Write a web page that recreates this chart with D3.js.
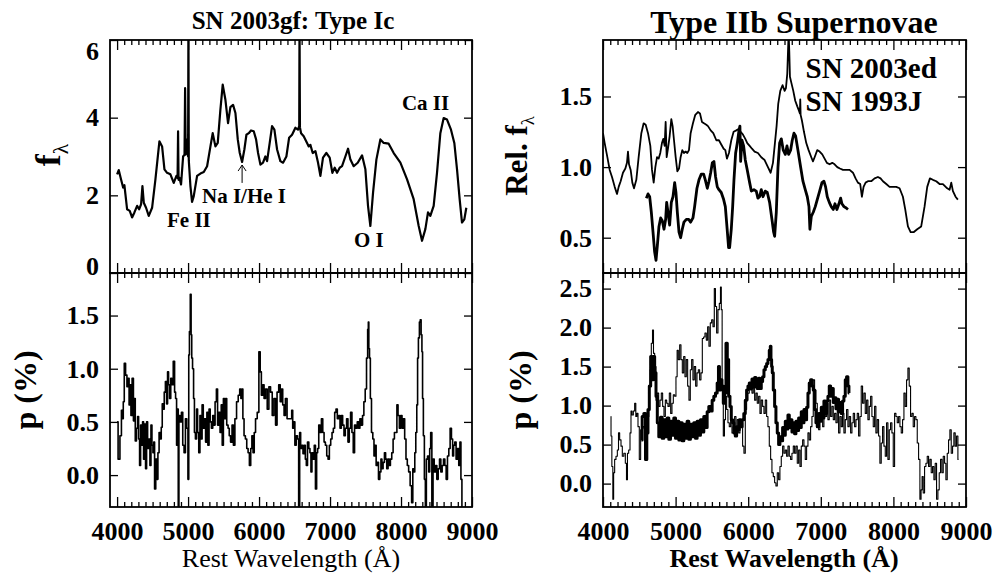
<!DOCTYPE html>
<meta charset="utf-8">
<style>
body{
	margin:0;
	background:#fff;
	font-family:"Liberation Serif","Times New Roman",serif;
}
svg text{fill:#000;}
</style>
<script src="https://cdn.jsdelivr.net/npm/d3@7"></script>
<svg id="chart" width="995" height="576"></svg>

<script>

// SN 2003gf (Type Ic): total flux, [wavelength A, f_lambda]
var icFlux = [[4000,2.54],[4023,2.65],[4056,2.41],[4085,2.20],[4103,2.26],[4117,2.03],[4141,1.64],[4178,1.60],[4211,1.43],[4244,1.56],
[4282,1.73],[4310,1.64],[4338,1.77],[4357,2.24],[4376,1.81],[4408,1.68],[4446,1.47],[4493,1.68],[4540,2.41],[4596,3.39],
[4634,3.26],[4667,2.67],[4704,2.58],[4751,2.54],[4798,2.32],[4836,2.50],[4852,2.45],[4859,3.65],[4866,2.40],[4878,2.45],
[4901,2.28],[4930,3.00],[4950,3.05],[4958,4.76],[4966,3.05],[4977,3.09],[4990,3.44],[5000,3.00],[5005,6.5],[5010,2.90],
[5033,2.24],[5056,1.83],[5080,1.98],[5127,2.50],[5174,2.56],[5221,2.60],[5268,2.75],[5315,3.26],[5347,3.60],[5385,3.26],
[5418,3.35],[5455,4.20],[5488,4.85],[5526,4.46],[5563,3.86],[5596,4.27],[5634,4.33],[5667,4.12],[5700,3.44],[5728,3.09],
[5761,2.86],[5793,3.18],[5822,3.56],[5855,3.60],[5887,3.67],[5925,3.65],[5958,3.44],[5986,3.09],[6019,2.79],[6056,2.84],
[6089,3.00],[6113,2.88],[6150,3.35],[6183,3.78],[6216,3.69],[6254,3.18],[6300,2.88],[6338,2.84],[6385,3.00],[6423,3.48],
[6465,3.56],[6512,3.74],[6549,3.69],[6566,3.78],[6570,6.5],[6576,3.75],[6592,3.60],[6629,3.52],[6676,3.35],[6700,3.26],
[6723,3.30],[6756,3.09],[6794,3.14],[6831,2.84],[6864,2.50],[6901,2.97],[6948,3.09],[6995,2.97],[7033,2.58],[7066,2.71],
[7099,2.58],[7136,2.71],[7169,2.75],[7216,3.00],[7254,3.20],[7287,2.92],[7333,2.75],[7390,2.84],[7451,3.03],[7498,2.67],
[7535,1.73],[7568,1.21],[7606,2.07],[7653,2.92],[7709,3.44],[7756,3.35],[7826,3.33],[7897,3.09],[7991,2.84],[8085,2.41],
[8178,1.90],[8249,1.21],[8296,0.83],[8343,1.13],[8380,1.56],[8413,1.47],[8460,1.73],[8507,2.58],[8554,3.60],[8601,3.99],
[8648,3.95],[8704,3.69],[8751,3.35],[8789,2.67],[8826,1.90],[8859,1.30],[8892,1.38],[8920,1.68]];

// SN 2003gf polarization, [wavelength A, p %]
var icPol = [[4000,0.50],[4028,0.15],[4052,0.37],[4070,0.61],[4080,0.53],[4094,0.69],[4108,1.05],[4131,0.94],[4146,0.83],[4164,0.91],
[4174,0.66],[4188,0.85],[4202,0.56],[4221,0.91],[4239,0.51],[4249,0.72],[4263,0.32],[4282,0.44],[4296,0.55],[4310,0.34],
[4324,0.09],[4338,0.47],[4352,0.28],[4366,0.50],[4380,0.15],[4394,0.48],[4408,0.06],[4423,0.50],[4437,0.25],[4455,0.34],
[4470,0.09],[4484,0.47],[4498,0.28],[4512,0.21],[4521,0.31],[4535,-0.13],[4554,0.15],[4568,-0.04],[4582,0.21],[4601,0.40],
[4615,0.34],[4629,0.45],[4643,0.67],[4657,0.62],[4671,0.78],[4690,0.88],[4704,0.67],[4718,0.97],[4732,0.85],[4747,0.72],
[4765,0.91],[4779,0.85],[4803,1.07],[4817,0.78],[4831,0.72],[4845,0.28],[4859,0.62],[4864,-0.35],[4878,0.56],[4897,0.50],
[4916,0.59],[4934,0.28],[4953,0.21],[4972,0.53],[4991,0.44],[5005,-0.04],[5014,1.13],[5024,1.35],[5038,1.70],[5047,1.32],
[5056,1.10],[5070,1.00],[5085,0.72],[5094,0.40],[5113,0.34],[5127,0.62],[5141,0.40],[5160,0.21],[5174,0.56],[5188,0.34],
[5207,0.66],[5221,0.44],[5235,0.53],[5258,0.31],[5272,0.59],[5286,0.28],[5305,0.62],[5319,0.50],[5338,0.44],[5357,0.56],
[5371,0.47],[5390,0.69],[5408,0.81],[5423,0.47],[5441,0.59],[5460,0.40],[5474,0.66],[5488,0.28],[5507,0.72],[5521,0.53],
[5535,0.72],[5554,0.47],[5573,0.44],[5587,0.37],[5610,0.31],[5629,0.47],[5648,0.28],[5671,0.53],[5695,0.69],[5718,0.75],
[5737,0.81],[5751,0.72],[5765,0.81],[5779,0.53],[5798,0.37],[5817,0.34],[5836,0.25],[5855,0.21],[5873,0.09],[5892,0.25],
[5906,0.37],[5925,0.21],[5939,0.40],[5962,0.53],[5986,0.59],[6009,1.16],[6023,0.97],[6042,0.75],[6061,0.85],[6080,0.72],
[6103,0.81],[6127,0.62],[6150,0.83],[6174,0.78],[6197,0.56],[6221,0.72],[6244,0.47],[6263,0.78],[6291,0.85],[6305,0.69],
[6324,0.81],[6343,0.66],[6362,0.56],[6380,0.72],[6409,0.53],[6453,0.53],[6467,0.61],[6481,0.44],[6495,0.50],[6514,0.28],
[6533,0.37],[6551,0.34],[6565,-0.35],[6579,0.40],[6593,0.25],[6612,0.28],[6626,0.20],[6645,0.28],[6659,0.15],[6673,0.09],
[6692,0.31],[6710,0.25],[6724,0.21],[6738,0.03],[6752,0.21],[6771,0.15],[6785,0.28],[6804,-0.13],[6818,0.21],[6832,0.25],
[6850,0.47],[6869,0.40],[6888,0.53],[6907,0.40],[6925,0.31],[6944,0.28],[6963,0.18],[6981,0.15],[7000,0.28],[7019,0.34],
[7037,0.40],[7056,0.44],[7075,0.59],[7093,0.62],[7112,0.53],[7131,0.56],[7150,0.44],[7168,0.56],[7187,0.47],[7206,0.37],
[7224,0.44],[7243,0.53],[7262,0.31],[7280,0.44],[7299,0.59],[7318,0.40],[7336,0.21],[7355,0.47],[7374,0.44],[7393,0.50],
[7411,0.44],[7430,0.53],[7449,0.47],[7467,0.56],[7486,0.69],[7505,0.81],[7523,1.10],[7537,1.37],[7542,1.44],[7551,1.19],
[7561,1.10],[7575,0.72],[7593,0.40],[7612,0.34],[7626,0.18],[7640,0.28],[7659,0.09],[7673,0.12],[7692,-0.04],[7710,0.03],
[7724,0.15],[7738,0.06],[7757,0.12],[7776,0.21],[7790,0.15],[7808,0.06],[7827,0.15],[7841,0.09],[7860,0.15],[7879,0.21],
[7898,0.34],[7916,0.40],[7935,0.40],[7949,0.66],[7967,0.56],[7986,0.44],[8005,0.56],[8023,0.44],[8042,0.53],[8061,0.34],
[8079,0.15],[8098,0.09],[8117,0.03],[8140,-0.10],[8159,-0.26],[8173,0.06],[8187,0.03],[8201,0.21],[8215,0.40],[8229,0.66],
[8238,1.10],[8252,1.29],[8266,1.44],[8276,1.46],[8290,1.32],[8299,1.16],[8308,0.72],[8322,0.37],[8336,-0.04],[8350,-0.35],
[8364,0.15],[8383,0.18],[8397,0.03],[8411,0.25],[8425,0.40],[8444,-0.35],[8458,0.15],[8477,0.03],[8495,0.09],[8514,-0.04],
[8533,0.06],[8552,0.15],[8570,0.03],[8589,0.09],[8608,0.15],[8627,0.09],[8645,-0.04],[8664,0.18],[8683,0.25],[8701,0.44],
[8720,0.34],[8734,0.18],[8748,0.28],[8767,0.31],[8785,0.15],[8804,0.25],[8823,0.09],[8837,0.31],[8851,-0.04],[8865,-0.35]];

// Type IIb: thin curve (full range) relative flux
var sn93jFlux = [[4000,1.24],[4023,1.17],[4060,1.07],[4092,0.98],[4124,0.93],[4161,0.86],[4193,0.81],[4216,0.86],[4243,0.90],[4275,0.96],
[4308,0.99],[4330,1.03],[4344,1.11],[4358,1.02],[4381,0.98],[4404,0.89],[4427,0.85],[4459,0.91],[4491,1.07],[4528,1.24],
[4560,1.31],[4588,1.30],[4620,1.24],[4652,1.15],[4675,0.98],[4698,0.89],[4721,1.00],[4744,1.07],[4767,1.06],[4789,1.10],
[4812,1.17],[4831,1.20],[4849,1.15],[4863,1.32],[4877,1.07],[4895,1.13],[4918,1.22],[4941,1.34],[4959,1.29],[4978,1.19],
[5001,1.07],[5024,0.97],[5047,0.99],[5069,1.07],[5092,1.12],[5115,1.10],[5138,1.11],[5161,1.10],[5184,1.12],[5207,1.24],
[5239,1.31],[5271,1.37],[5308,1.39],[5336,1.38],[5363,1.32],[5391,1.31],[5423,1.30],[5446,1.29],[5483,1.26],[5519,1.24],
[5561,1.19],[5597,1.19],[5629,1.16],[5662,1.13],[5685,1.12],[5707,1.06],[5735,1.10],[5767,1.19],[5799,1.25],[5836,1.26],
[5868,1.27],[5896,1.25],[5928,1.23],[5960,1.20],[5987,1.17],[6020,1.15],[6052,1.13],[6088,1.11],[6134,1.10],[6180,1.07],
[6226,1.05],[6272,1.00],[6309,0.96],[6341,1.03],[6368,1.17],[6391,1.29],[6414,1.45],[6442,1.54],[6474,1.58],[6502,1.54],
[6520,1.56],[6538,1.66],[6547,1.80],[6557,1.95],[6566,1.82],[6575,1.64],[6593,1.60],[6621,1.54],[6648,1.47],[6676,1.43],
[6699,1.40],[6712,1.38],[6717,1.48],[6722,1.37],[6740,1.33],[6768,1.25],[6800,1.17],[6832,1.12],[6869,1.07],[6892,1.04],
[6915,1.07],[6951,1.12],[6984,1.11],[7020,1.09],[7052,1.06],[7084,1.03],[7121,1.02],[7158,1.03],[7190,1.02],[7227,1.00],
[7263,0.99],[7305,0.98],[7351,0.98],[7397,0.98],[7443,0.96],[7479,0.92],[7511,0.89],[7543,0.88],[7566,0.79],[7589,0.86],
[7617,0.89],[7649,0.90],[7695,0.90],[7741,0.92],[7787,0.93],[7823,0.92],[7856,0.90],[7902,0.88],[7947,0.86],[7993,0.86],
[8039,0.86],[8085,0.85],[8131,0.79],[8163,0.70],[8200,0.58],[8237,0.54],[8282,0.54],[8328,0.56],[8383,0.58],[8429,0.72],
[8466,0.86],[8503,0.92],[8544,0.91],[8590,0.90],[8636,0.88],[8682,0.88],[8741,0.85],[8774,0.84],[8797,0.89],[8820,0.83],
[8856,0.79],[8888,0.77]];

// Type IIb: thick curve (short range) relative flux
var sn03edFlux = [[4597,0.78],[4620,0.81],[4643,0.79],[4666,0.68],[4689,0.54],[4711,0.40],[4730,0.34],[4748,0.44],[4771,0.58],[4794,0.64],
[4817,0.62],[4840,0.56],[4863,0.63],[4877,0.75],[4895,0.68],[4918,0.59],[4941,0.75],[4964,0.79],[4987,0.89],[5005,0.82],
[5024,0.68],[5047,0.54],[5069,0.50],[5092,0.56],[5115,0.61],[5148,0.63],[5180,0.63],[5207,0.61],[5239,0.64],[5262,0.72],
[5294,0.85],[5322,0.91],[5354,0.95],[5386,0.95],[5409,0.91],[5437,0.85],[5460,0.90],[5483,0.96],[5506,1.03],[5528,1.04],
[5551,0.93],[5574,0.86],[5597,0.84],[5629,0.82],[5662,0.77],[5685,0.72],[5707,0.58],[5730,0.43],[5744,0.43],[5767,0.56],
[5786,0.72],[5804,0.91],[5827,1.10],[5850,1.17],[5873,1.26],[5886,1.29],[5896,1.04],[5914,1.19],[5937,1.15],[5960,1.05],
[5987,0.98],[6020,0.89],[6043,0.83],[6079,0.84],[6111,0.83],[6134,0.78],[6157,0.79],[6180,0.84],[6203,0.79],[6235,0.83],
[6263,0.82],[6295,0.75],[6327,0.63],[6350,0.54],[6364,0.51],[6387,0.68],[6410,1.00],[6433,1.17],[6456,1.20],[6483,1.12],
[6511,1.09],[6534,1.15],[6557,1.09],[6584,1.12],[6607,1.19],[6630,1.24],[6653,1.22],[6685,1.12],[6722,1.00],[6754,0.90],
[6786,0.84],[6814,0.79],[6837,0.72],[6850,0.56],[6869,0.65],[6896,0.68],[6924,0.72],[6951,0.77],[6984,0.83],[7016,0.89],
[7043,0.90],[7066,0.86],[7089,0.79],[7117,0.75],[7144,0.72],[7172,0.70],[7195,0.74],[7222,0.70],[7250,0.74],[7273,0.78],
[7291,0.74],[7319,0.72],[7351,0.71],[7374,0.70]];

// Type IIb polarization, thin curve
var sn93jPol = [[4106,0.86],[4115,0.61],[4129,0.22],[4142,-0.20],[4151,0.14],[4170,0.31],[4188,0.35],[4207,0.43],[4220,0.65],[4239,0.56],
[4257,0.48],[4275,0.35],[4298,0.39],[4317,0.26],[4330,0.05],[4344,0.39],[4363,0.43],[4381,0.65],[4390,0.93],[4409,0.88],
[4427,0.93],[4445,1.03],[4459,0.86],[4473,0.90],[4491,0.73],[4509,0.31],[4528,0.69],[4551,0.73],[4574,0.71],[4597,0.78],
[4620,0.86],[4643,1.25],[4656,1.46],[4675,1.80],[4689,1.97],[4702,1.67],[4721,1.50],[4739,1.07],[4757,1.16],[4776,0.99],
[4794,1.07],[4812,1.16],[4831,0.99],[4849,0.86],[4868,1.07],[4886,1.03],[4904,0.99],[4923,1.16],[4941,0.90],[4959,1.03],
[4978,1.14],[4996,1.12],[5014,1.37],[5028,1.71],[5047,1.59],[5065,1.78],[5083,1.59],[5102,1.42],[5120,1.63],[5138,1.37],
[5157,1.59],[5175,1.25],[5193,1.07],[5212,1.46],[5230,1.59],[5248,1.33],[5267,1.50],[5285,1.25],[5304,1.42],[5322,1.46],
[5340,1.33],[5359,1.42],[5377,1.86],[5395,1.88],[5414,1.93],[5432,1.84],[5450,2.01],[5469,1.76],[5487,2.06],[5506,2.10],
[5524,2.01],[5542,2.50],[5556,2.27],[5574,1.93],[5593,2.23],[5611,2.31],[5625,2.52],[5634,2.23],[5648,1.25],[5666,0.61],
[5680,0.82],[5694,1.12],[5712,0.95],[5730,0.78],[5749,0.73],[5767,0.82],[5786,0.65],[5804,0.73],[5822,0.86],[5841,0.69],
[5859,0.82],[5877,0.65],[5896,0.73],[5914,0.78],[5932,0.48],[5951,0.39],[5969,0.95],[5987,1.07],[6006,1.16],[6024,1.25],
[6043,1.20],[6061,1.16],[6079,1.25],[6098,1.07],[6116,1.16],[6134,1.03],[6153,1.12],[6171,0.90],[6189,1.07],[6208,0.99],
[6226,0.90],[6245,1.07],[6263,0.86],[6281,0.73],[6300,0.48],[6318,0.31],[6336,0.14],[6355,0.09],[6373,0.01],[6391,-0.03],
[6410,0.14],[6428,0.05],[6446,0.22],[6465,0.35],[6483,0.48],[6502,0.39],[6520,0.43],[6538,0.35],[6557,0.48],[6575,0.35],
[6593,0.31],[6612,0.39],[6630,0.48],[6648,0.39],[6667,0.48],[6685,0.26],[6704,0.43],[6722,0.22],[6740,0.48],[6759,0.56],
[6777,0.48],[6795,0.31],[6814,0.48],[6832,0.65],[6850,0.56],[6869,0.73],[6887,0.86],[6905,1.33],[6924,1.20],[6942,1.03],
[6961,0.86],[6979,0.69],[6997,0.82],[7016,0.90],[7034,0.73],[7052,0.99],[7071,0.86],[7089,1.03],[7107,0.82],[7126,1.07],
[7144,0.86],[7163,0.99],[7181,0.82],[7199,0.90],[7218,0.78],[7236,0.99],[7254,0.65],[7273,0.86],[7291,0.73],[7309,0.90],
[7328,0.65],[7346,0.82],[7364,0.95],[7383,0.73],[7401,0.86],[7420,0.65],[7438,0.78],[7456,0.90],[7475,0.73],[7493,0.82],
[7511,0.90],[7530,0.61],[7548,0.86],[7566,1.25],[7585,1.03],[7603,1.16],[7622,0.90],[7640,1.07],[7658,0.82],[7677,0.99],
[7695,1.12],[7713,0.86],[7732,0.73],[7750,0.99],[7768,0.65],[7787,0.82],[7805,0.61],[7823,0.26],[7842,0.52],[7860,0.73],
[7879,0.48],[7897,0.35],[7915,0.78],[7934,0.31],[7952,0.69],[7970,0.78],[7989,0.65],[8007,0.22],[8026,0.90],[8044,0.86],
[8062,0.78],[8081,0.86],[8099,0.73],[8117,0.65],[8136,0.82],[8154,1.16],[8172,0.99],[8191,1.33],[8209,1.48],[8227,1.25],
[8246,0.86],[8264,0.90],[8282,0.73],[8301,0.86],[8319,0.82],[8338,0.52],[8356,0.31],[8374,-0.20],[8388,-0.08],[8402,0.09],
[8420,-0.12],[8439,0.22],[8457,0.26],[8475,0.35],[8494,0.22],[8512,0.31],[8530,0.14],[8549,0.22],[8567,0.05],[8585,0.26],
[8604,-0.20],[8622,-0.08],[8640,0.14],[8659,0.31],[8677,0.14],[8696,0.35],[8714,0.26],[8732,0.05],[8751,0.39],[8769,0.56],
[8787,0.69],[8806,0.39],[8824,0.48],[8842,0.65],[8861,0.48],[8879,0.61],[8898,0.31]];

// Type IIb polarization, thick curve
var sn03edPol = [[4528,0.56],[4551,0.86],[4574,0.90],[4597,0.31],[4610,0.65],[4629,0.95],[4647,1.25],[4666,1.63],[4684,1.33],[4702,1.63],
[4721,1.42],[4739,1.12],[4757,0.78],[4780,0.60],[4803,0.85],[4826,0.58],[4849,0.82],[4872,0.60],[4895,0.84],[4918,0.57],
[4941,0.80],[4964,0.62],[4987,0.84],[5010,0.58],[5033,0.80],[5056,0.56],[5079,0.78],[5102,0.55],[5125,0.76],[5148,0.58],
[5170,0.80],[5193,0.57],[5216,0.76],[5239,0.60],[5262,0.78],[5285,0.58],[5308,0.80],[5331,0.62],[5354,0.82],[5377,0.66],
[5400,0.86],[5423,0.72],[5446,0.92],[5469,0.99],[5492,0.93],[5515,1.07],[5538,1.12],[5561,1.16],[5584,1.29],[5597,1.50],
[5611,1.20],[5629,1.33],[5648,1.25],[5666,1.03],[5685,1.16],[5703,1.80],[5721,1.59],[5740,1.12],[5758,0.99],[5776,0.82],
[5795,0.78],[5813,0.65],[5831,0.61],[5850,0.73],[5868,0.69],[5886,0.82],[5905,0.73],[5928,0.82],[5951,0.90],[5969,1.07],
[5987,1.20],[6006,1.25],[6024,1.29],[6043,1.22],[6061,1.34],[6079,1.24],[6098,1.36],[6116,1.26],[6134,1.22],[6153,1.35],
[6171,1.22],[6189,1.31],[6208,1.37],[6226,1.46],[6245,1.50],[6263,1.54],[6281,1.59],[6300,1.71],[6309,1.76],[6318,1.59],
[6327,1.50],[6336,1.42],[6355,1.20],[6373,0.99],[6391,0.78],[6410,0.65],[6428,0.50],[6446,0.60],[6465,0.55],[6483,0.72],
[6502,0.62],[6520,0.80],[6538,0.70],[6557,0.88],[6575,0.72],[6593,0.82],[6612,0.66],[6630,0.78],[6648,0.64],[6667,0.80],
[6685,0.68],[6704,0.84],[6722,0.72],[6740,0.92],[6759,0.78],[6777,0.95],[6795,0.82],[6814,0.98],[6832,1.16],[6850,1.29],
[6869,1.33],[6887,1.25],[6905,1.20],[6924,0.95],[6942,0.78],[6961,0.73],[6979,0.90],[6997,0.80],[7016,0.98],[7034,0.84],
[7052,1.06],[7071,0.90],[7089,1.06],[7107,1.12],[7126,1.25],[7144,1.12],[7163,1.22],[7181,1.04],[7199,1.10],[7218,0.96],
[7236,1.08],[7254,0.92],[7273,1.04],[7291,0.90],[7309,1.06],[7328,1.12],[7346,1.33],[7364,1.37],[7383,1.25],[7392,1.16]];

// axis ticks
var majorWave = [4000,5000,6000,7000,8000,9000];
var minorWave = d3.range(4000, 9001, 100).filter(function(v){ return v % 1000 != 0 });
var icFluxTicks = [0,2,4,6];
var polTicksLeft = [0.0,0.5,1.0,1.5];
var relTicks = [0.5,1.0,1.5];
var polTicksRight = [0.0,0.5,1.0,1.5,2.0,2.5];

var svg = d3.select("#chart");
var tickFont = "bold 26px 'Liberation Serif'";

function drawPanel(cfg){
	var g = svg.append("g");
	var x = d3.scaleLinear().domain(cfg.xDomain).range([cfg.left, cfg.right]);
	var y = d3.scaleLinear().domain(cfg.yDomain).range([cfg.bottom, cfg.top]);

	svg.append("clipPath").attr("id", cfg.id)
		.append("rect")
		.attr("x", cfg.left).attr("y", cfg.top)
		.attr("width", cfg.right-cfg.left).attr("height", cfg.bottom-cfg.top);

	cfg.series.forEach(function(s){
		var line = d3.line()
			.x(function(d){ return x(d[0]) })
			.y(function(d){ return y(d[1]) })
			.curve(s.step ? d3.curveStep : d3.curveLinear);
		g.append("path").datum(s.data)
			.attr("clip-path", "url(#"+cfg.id+")")
			.attr("fill","none")
			.attr("stroke","#000")
			.attr("stroke-width", s.width)
			.attr("stroke-linejoin","round")
			.attr("d", line);
	});

	// x ticks, all pointing inward
	function xTicks(axisFn, ypos, size, vals, labels){
		var a = axisFn(x).tickValues(vals).tickSize(size).tickSizeOuter(0).tickPadding(15);
		if(!labels) a.tickFormat("");
		else a.tickFormat(d3.format("d"));
		var ax = g.append("g").attr("transform","translate(0,"+ypos+")").call(a);
		ax.select(".domain").remove();
		ax.selectAll("line").attr("stroke-width",1.3);
		ax.selectAll("text").style("font", tickFont).attr("fill","#000");
		return ax;
	}
	xTicks(d3.axisBottom, cfg.bottom, -10, majorWave, cfg.xLabels);
	xTicks(d3.axisBottom, cfg.bottom, -5, minorWave, false);
	xTicks(d3.axisTop, cfg.top, -10, majorWave, false);
	xTicks(d3.axisTop, cfg.top, -5, minorWave, false);

	// y ticks
	var ya = d3.axisLeft(y).tickValues(cfg.yTicks).tickSize(-8).tickSizeOuter(0).tickPadding(11)
		.tickFormat(cfg.yFormat);
	var yl = g.append("g").attr("transform","translate("+cfg.left+",0)").call(ya);
	yl.select(".domain").remove();
	yl.selectAll("line").attr("stroke-width",1.3);
	yl.selectAll("text").style("font", tickFont).attr("fill","#000");
	if(cfg.nudge){
		yl.selectAll(".tick text").attr("dy", function(d){ return cfg.nudge(d) });
	}
	var yr = g.append("g").attr("transform","translate("+cfg.right+",0)")
		.call(d3.axisRight(y).tickValues(cfg.yTicks).tickSize(-8).tickSizeOuter(0).tickFormat(""));
	yr.select(".domain").remove();
	yr.selectAll("line").attr("stroke-width",1.3);

	g.append("rect")
		.attr("x", cfg.left).attr("y", cfg.top)
		.attr("width", cfg.right-cfg.left).attr("height", cfg.bottom-cfg.top)
		.attr("fill","none").attr("stroke","#000").attr("stroke-width",1.8);

	return {x:x, y:y, g:g};
}

var L = {left:110, right:472}, R = {left:603, right:966};
var T = {top:40, bottom:273}, B = {top:273, bottom:507};

var pIc = drawPanel({id:"c1", left:L.left, right:L.right, top:T.top, bottom:T.bottom,
	xDomain:[3900,9000], yDomain:[0,6], yTicks:icFluxTicks, yFormat:d3.format("d"), xLabels:false,
	nudge:function(d){ return d==6 ? "0.75em" : (d==0 ? "0.05em" : "0.32em") },
	series:[{data:icFlux, width:2.2}]});

var pIcPol = drawPanel({id:"c2", left:L.left, right:L.right, top:B.top, bottom:B.bottom,
	xDomain:[3900,9000], yDomain:[-0.3,1.9], yTicks:polTicksLeft, yFormat:d3.format(".1f"), xLabels:true,
	series:[{data:icPol, width:1.6, step:true}]});

var pIIb = drawPanel({id:"c3", left:R.left, right:R.right, top:T.top, bottom:T.bottom,
	xDomain:[4000,9000], yDomain:[0.25,1.9], yTicks:relTicks, yFormat:d3.format(".1f"), xLabels:false,
	series:[{data:sn93jFlux, width:1.8},{data:sn03edFlux, width:2.8}]});

var pIIbPol = drawPanel({id:"c4", left:R.left, right:R.right, top:B.top, bottom:B.bottom,
	xDomain:[4000,9000], yDomain:[-0.3,2.7], yTicks:polTicksRight, yFormat:d3.format(".1f"), xLabels:true,
	series:[{data:sn93jPol, width:1.1, step:true},{data:sn03edPol, width:3, step:true}]});

// titles
svg.append("text").attr("x",293).attr("y",29).attr("text-anchor","middle")
	.style("font","bold 25px 'Liberation Serif'").text("SN 2003gf: Type Ic");
svg.append("text").attr("x",794).attr("y",33).attr("text-anchor","middle")
	.style("font","bold 32px 'Liberation Serif'").text("Type IIb Supernovae");

// x axis titles
svg.append("text").attr("x",291).attr("y",567).attr("text-anchor","middle")
	.style("font","26px 'Liberation Serif'").text("Rest Wavelength (\u00c5)");
svg.append("text").attr("x",784).attr("y",567).attr("text-anchor","middle")
	.style("font","bold 26px 'Liberation Serif'").text("Rest Wavelength (\u00c5)");

// y axis titles
function yTitle(xp, yp, main, sub, size){
	var t = svg.append("text").attr("transform","translate("+xp+","+yp+") rotate(-90)")
		.attr("text-anchor","middle").style("font","bold "+size+"px 'Liberation Serif'");
	t.append("tspan").text(main);
	if(sub) t.append("tspan").attr("dy", size*0.22).style("font", (size*0.6)+"px 'Liberation Serif'").text(sub);
}
yTitle(60, 155, "f", "\u03bb", 36);
yTitle(36, 390, "p (%)", null, 32);
yTitle(527, 156, "Rel. f", "\u03bb", 31);
yTitle(531, 390, "p (%)", null, 32);

// line labels on the Type Ic spectrum
var notes = [["Fe II",4703,1.18],["Na I/He I",5196,1.80],["O I",7337,0.67],["Ca II",8013,4.2]];
notes.forEach(function(n){
	svg.append("text").attr("x", pIc.x(n[1])).attr("y", pIc.y(n[2]))
		.style("font","bold 21px 'Liberation Serif'").text(n[0]);
});
var ax = pIc.x(5761), ay0 = pIc.y(2.32), ay1 = pIc.y(2.78);
svg.append("path")
	.attr("d","M"+ax+","+ay0+"L"+ax+","+ay1+"M"+(ax-4)+","+(ay1+6)+"L"+ax+","+ay1+"L"+(ax+4)+","+(ay1+6))
	.attr("fill","none").attr("stroke","#000").attr("stroke-width",1);

// names in the Type IIb panel
var names = ["SN 2003ed","SN 1993J"];
names.forEach(function(n, i){
	svg.append("text").attr("x", pIIb.x(6790))
		.attr("y", pIIb.y(1.63) + i*33)
		.style("font","bold 29px 'Liberation Serif'").text(n);
});

</script>
